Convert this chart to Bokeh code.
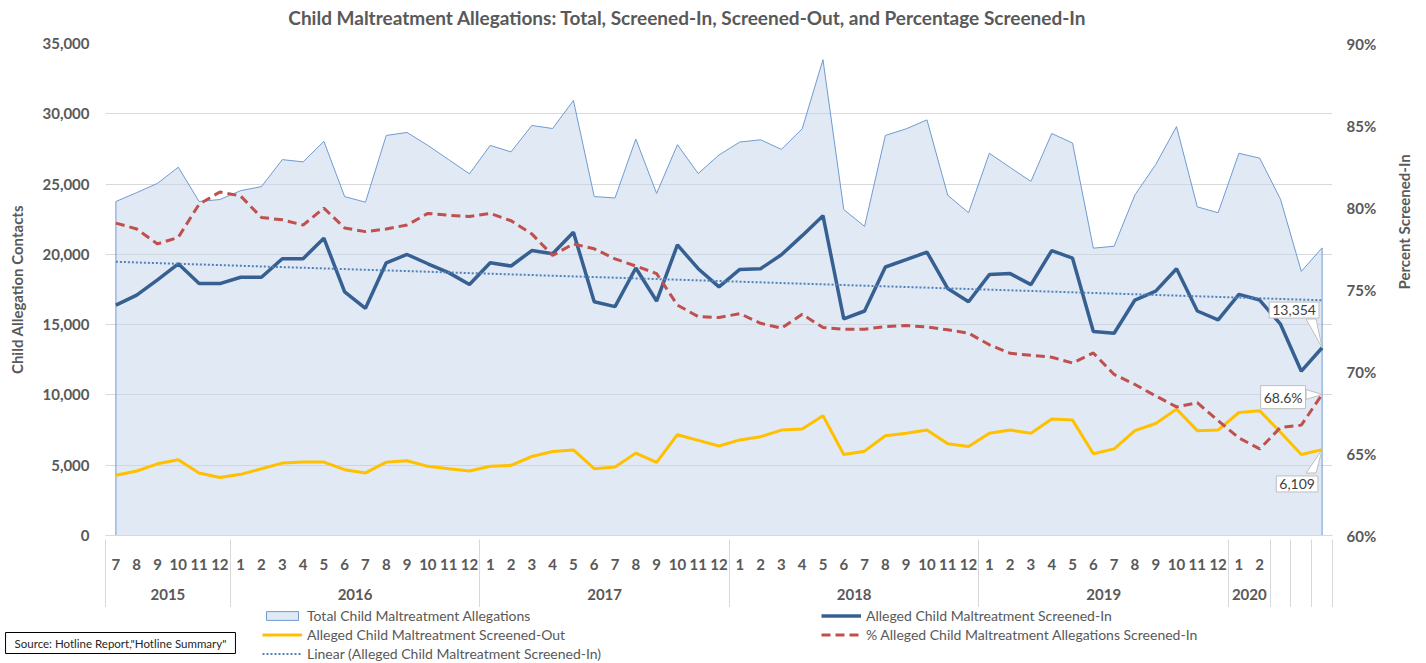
import math
import numpy as np
from bokeh.plotting import figure
from bokeh.layouts import column
from bokeh.models import (Range1d, LinearAxis, FixedTicker, NumeralTickFormatter,
                          PrintfTickFormatter, Label, Legend, LegendItem)
from bokeh.embed import file_html
from bokeh.resources import INLINE

# ---------------- data ----------------
month_labels = ["7", "8", "9", "10", "11", "12",
                "1", "2", "3", "4", "5", "6", "7", "8", "9", "10", "11", "12",
                "1", "2", "3", "4", "5", "6", "7", "8", "9", "10", "11", "12",
                "1", "2", "3", "4", "5", "6", "7", "8", "9", "10", "11", "12",
                "1", "2", "3", "4", "5", "6", "7", "8", "9", "10", "11", "12",
                "1", "2", "", "", ""]
year_labels = ["2015", "2016", "2017", "2018", "2019", "2020"]
year_month_counts = [6, 12, 12, 12, 12, 2]

total_allegations = [23760, 24390, 25050, 26200, 23760, 23900,
                     24530, 24820, 26740, 26580, 28040, 24110, 23710, 28460, 28670, 27750, 26740, 25730,
                     27750, 27290, 29170, 28950, 30950, 24110, 24010, 28200, 24340, 27800, 25750, 27070,
                     27990, 28150, 27470, 28930, 33850, 23190, 21990, 28460, 28930, 29570, 24200, 22960,
                     27190, 26180, 25190, 28600, 27920, 20440, 20580, 24230, 26390, 29090, 23380, 22960,
                     27190, 26840, 23920, 18790, 20460]
screened_in = [16390, 17100, 18190, 19330, 17920, 17920,
               18370, 18370, 19690, 19690, 21150, 17330, 16160, 19400, 19990, 19330, 18700, 17850,
               19400, 19170, 20270, 20040, 21570, 16630, 16280, 19030, 16680, 20670, 18980, 17690,
               18930, 18980, 19970, 21330, 22750, 15410, 15970, 19100, 19620, 20160, 17570, 16630,
               18560, 18630, 17850, 20270, 19730, 14510, 14390, 16750, 17380, 18980, 15970, 15340,
               17150, 16750, 15030, 11690, 13354]
screened_out = [4280, 4590, 5100, 5390, 4450, 4120,
                4350, 4750, 5150, 5220, 5220, 4680, 4450, 5220, 5320, 4920, 4750, 4590,
                4920, 4990, 5620, 5970, 6090, 4750, 4870, 5860, 5200, 7170, 6770, 6370,
                6800, 7030, 7500, 7570, 8520, 5760, 6000, 7100, 7270, 7500, 6520, 6330,
                7270, 7500, 7270, 8280, 8210, 5810, 6160, 7460, 7970, 8990, 7460, 7500,
                8750, 8870, 7340, 5760, 6109]
pct_screened_in = [79.05, 78.69, 77.78, 78.18, 80.20, 80.95,
                   80.70, 79.39, 79.25, 78.93, 79.96, 78.75, 78.53, 78.69, 78.93, 79.64, 79.53, 79.45,
                   79.64, 79.19, 78.39, 77.08, 77.78, 77.48, 76.87, 76.43, 75.97, 74.05, 73.35, 73.29,
                   73.53, 72.94, 72.64, 73.49, 72.68, 72.58, 72.58, 72.74, 72.80, 72.72, 72.54, 72.34,
                   71.63, 71.11, 70.99, 70.87, 70.52, 71.13, 69.82, 69.21, 68.51, 67.84, 68.10, 67.00,
                   65.95, 65.28, 66.59, 66.73, 68.6]
left_ticks = [0, 5000, 10000, 15000, 20000, 25000, 30000, 35000]
right_ticks = [60, 65, 70, 75, 80, 85, 90]

TITLE = "Child Maltreatment Allegations: Total, Screened-In, Screened-Out, and Percentage Screened-In"
SOURCE = 'Source: Hotline Report,"Hotline Summary"'

# ---------------- geometry ----------------
N = len(month_labels)
xs = list(range(N))
W = 1426
H_TOP, H_MAIN, H_BOT = 30, 577, 55
L, R, T, B = 105, W - 1332, 13, 68
FW = W - L - R
FH = H_MAIN - T - B
X0, X1 = -0.5, N - 0.5
Y0, Y1 = 0, 35000
P0, P1 = 60, 90


def dx(px):
    return px * (X1 - X0) / FW


def dy(px):
    return px * (Y1 - Y0) / FH


def dp(px):
    return px * (P1 - P0) / FH


FONT = "Lato"
GREY = "#595959"
GRID = "#d9d9d9"
C_AREA_FILL, C_AREA_LINE = "#c3d4ea", "#6f9bd1"
C_IN, C_OUT, C_PCT, C_TREND = "#376092", "#ffc000", "#c0504d", "#4f81bd"


def blank_fig(h):
    f = figure(width=W, height=h, x_range=Range1d(0, W), y_range=Range1d(h, 0),
               output_backend="svg", toolbar_location=None, title=None,
               x_axis_location=None, y_axis_location=None, frame_align=False,
               min_border_left=0, min_border_right=0, min_border_top=0, min_border_bottom=0)
    f.grid.visible = False
    f.outline_line_color = None
    f.background_fill_color = "white"
    f.border_fill_color = "white"
    return f


# ---------------- title figure ----------------
top = blank_fig(H_TOP)
top.add_layout(Label(x=687, y=17, text=TITLE, text_align="center", text_baseline="middle",
                     text_font=FONT, text_font_size="19px", text_font_style="bold",
                     text_color=GREY))

# ---------------- main figure ----------------
p = figure(width=W, height=H_MAIN, x_range=Range1d(X0, X1), y_range=Range1d(Y0, Y1),
           output_backend="svg", toolbar_location=None, x_axis_location=None, title=None,
           frame_align=False,
           min_border_left=L, min_border_right=R, min_border_top=T, min_border_bottom=B)
p.extra_y_ranges = {"pct": Range1d(P0, P1)}
p.outline_line_color = None
p.background_fill_color = "white"
p.border_fill_color = "white"
p.xgrid.visible = False
p.ygrid.ticker = FixedTicker(ticks=left_ticks)
p.ygrid.grid_line_color = GRID


def style_axis(ax, size="15px"):
    ax.major_label_text_font = FONT
    ax.major_label_text_font_size = size
    ax.major_label_text_font_style = "bold"
    ax.major_label_text_color = GREY
    ax.axis_label_text_font = FONT
    ax.axis_label_text_font_size = "15px"
    ax.axis_label_text_font_style = "bold"
    ax.axis_label_text_color = GREY


la = p.yaxis[0]
la.ticker = FixedTicker(ticks=left_ticks)
la.formatter = NumeralTickFormatter(format="0,0")
la.axis_label = "Child Allegation Contacts"
la.axis_line_color = None
la.major_tick_line_color = None
la.minor_tick_line_color = None
la.major_tick_out = 0
la.major_label_standoff = 16
la.axis_label_standoff = 13
style_axis(la)

ra = LinearAxis(y_range_name="pct", ticker=FixedTicker(ticks=right_ticks),
                formatter=PrintfTickFormatter(format="%d%%"),
                axis_label="Percent Screened-In", axis_label_orientation=math.pi / 2,
                axis_line_color=None, major_tick_line_color=None, minor_tick_line_color=None,
                major_tick_out=0, major_label_standoff=14, axis_label_standoff=25)
style_axis(ra)
p.add_layout(ra, "right")

ma = LinearAxis(ticker=FixedTicker(ticks=xs),
                major_label_overrides={i: m for i, m in enumerate(month_labels)},
                major_tick_out=0, major_tick_in=0, major_tick_line_color=None,
                minor_tick_line_color=None, axis_line_color=GRID, major_label_standoff=23)
style_axis(ma)
p.add_layout(ma, "below")

year_centers = []
start = 0
for c in year_month_counts:
    year_centers.append(start + (c - 1) / 2)
    start += c
ya = LinearAxis(ticker=FixedTicker(ticks=year_centers),
                major_label_overrides={c: y for c, y in zip(year_centers, year_labels)},
                major_tick_out=0, major_tick_in=0, major_tick_line_color=None,
                minor_tick_line_color=None, axis_line_color=None, major_label_standoff=16)
style_axis(ya)
p.add_layout(ya, "below")

# separators between year groups (and the trailing unlabeled months)
seps = [X0 + 0.001]
pos = -0.5
for c in year_month_counts:
    pos += c
    seps.append(pos)
for i in range(sum(year_month_counts), N):
    seps.append(min(i + 0.5, X1 - 0.001))
sa = LinearAxis(ticker=FixedTicker(ticks=[], minor_ticks=seps),
                major_tick_out=0, major_tick_in=0, major_tick_line_color=None,
                minor_tick_in=63, minor_tick_out=5, minor_tick_line_color=GRID,
                minor_tick_line_width=1, axis_line_color=None, major_label_standoff=0)
p.add_layout(sa, "below")

# ---------------- series ----------------
r_total = p.patch(x=[xs[0]] + xs + [xs[-1]], y=[0] + total_allegations + [0],
                  fill_color=C_AREA_FILL, fill_alpha=0.5, line_color=C_AREA_LINE, line_width=1)
r_in = p.line(xs, screened_in, line_color=C_IN, line_width=3.5)
r_out = p.line(xs, screened_out, line_color=C_OUT, line_width=3)
r_pct = p.line(xs, pct_screened_in, y_range_name="pct", line_color=C_PCT,
               line_width=3, line_dash="9 5")
coef = np.polyfit(xs, screened_in, 1)
r_trend = p.line(xs, np.polyval(coef, xs), line_color=C_TREND, line_width=2, line_dash="2 2")

# ---------------- callouts ----------------


def callout(text, tip_x, tip_y, off, tail, yr=None):
    conv = dp if yr else dy
    kw = {"y_range_name": yr} if yr else {}
    tx = [tip_x + dx(a) for a, b in tail] + [tip_x]
    ty = [tip_y - conv(b) for a, b in tail] + [tip_y]
    p.patch(tx, ty, fill_color="white", line_color="#bfbfbf", line_width=1, **kw)
    lab = Label(x=tip_x + dx(off[0]), y=tip_y - conv(off[1]), text=text,
                text_align="center", text_baseline="middle", text_font=FONT,
                text_font_size="14px", text_color="#404040",
                background_fill_color="white", border_line_color="#bfbfbf",
                padding=3, **kw)
    p.add_layout(lab)


last = N - 1
callout(f"{screened_in[-1]:,}", last, screened_in[-1], (-28, -38), [(-16, -29), (-6, -29)])
callout(f"{pct_screened_in[-1]:.1f}%", last, pct_screened_in[-1], (-39, 2.7),
        [(-16, -5), (-16, 5)], yr="pct")
callout(f"{screened_out[-1]:,}", last, screened_out[-1], (-25, 34.6), [(-16, 23.6), (-6, 23.6)])

# ---------------- bottom: legend + source ----------------
NAN = [float("nan")]
bot = blank_fig(H_BOT)
g_total = bot.patch(x=NAN, y=NAN, fill_color=C_AREA_FILL, fill_alpha=0.5,
                    line_color=C_AREA_LINE, line_width=1)
g_out = bot.line(x=NAN, y=NAN, line_color=C_OUT, line_width=3)
g_trend = bot.line(x=NAN, y=NAN, line_color=C_TREND, line_width=2, line_dash="2 2")
g_in = bot.line(x=NAN, y=NAN, line_color=C_IN, line_width=3.5)
g_pct = bot.line(x=NAN, y=NAN, line_color=C_PCT, line_width=3, line_dash="9 5")
legend = Legend(items=[
    LegendItem(label="Total Child Maltreatment Allegations", renderers=[g_total]),
    LegendItem(label="Alleged Child Maltreatment Screened-Out", renderers=[g_out]),
    LegendItem(label="Linear (Alleged Child Maltreatment Screened-In)", renderers=[g_trend]),
    LegendItem(label="Alleged Child Maltreatment Screened-In", renderers=[g_in]),
    LegendItem(label="% Alleged Child Maltreatment Allegations Screened-In", renderers=[g_pct]),
], location=(262, -1), ncols=2, orientation="vertical", label_width=514, label_height=19,
    glyph_width=40, glyph_height=11, spacing=0, padding=0, margin=0, label_standoff=5,
    background_fill_alpha=0, border_line_color=None, label_text_font=FONT,
    label_text_font_size="14px", label_text_color=GREY)
bot.add_layout(legend)
bot.add_layout(Label(x=120, y=35.5, text=SOURCE, text_align="center", text_baseline="middle",
                     text_font=FONT, text_font_size="11.5px", text_color="#262626",
                     background_fill_color="white", border_line_color="black",
                     border_line_width=1, padding=(9, 4)))

layout = column(top, p, bot, spacing=0)
open("out.html", "w").write(file_html(layout, INLINE))
